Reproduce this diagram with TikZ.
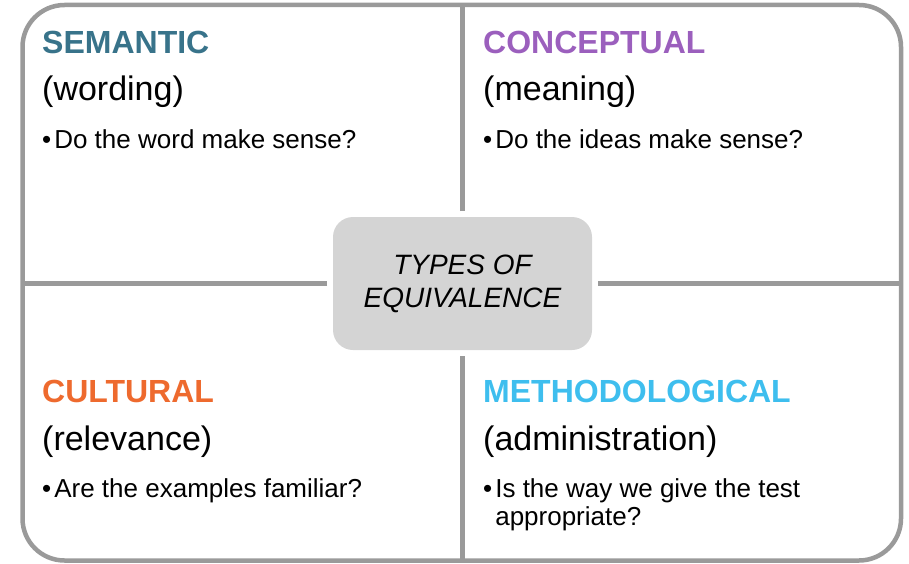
\documentclass[tikz,border=0pt]{standalone}
\usepackage{fontspec}
\setmainfont{Liberation Sans}
\definecolor{semcol}{HTML}{38738A}
\definecolor{concol}{HTML}{9B5FBD}
\definecolor{culcol}{HTML}{EE6A2E}
\definecolor{metcol}{HTML}{3EBEEE}
\definecolor{framegray}{HTML}{9A9A9A}
\definecolor{boxgray}{HTML}{D4D4D4}
\begin{document}
\begin{tikzpicture}[x=1pt, y=-1pt,
    head/.style={anchor=base west, inner sep=0pt, font=\fontsize{32}{38}\selectfont\bfseries},
    sub/.style={anchor=base west, inner sep=0pt, font=\fontsize{34}{40}\selectfont},
    item/.style={anchor=base west, inner sep=0pt, font=\fontsize{26}{28}\selectfont},
    divider/.style={draw=framegray, line width=4.5pt}]
    \useasboundingbox (0,0) rectangle (909,564);
    \draw[divider, rounded corners=42pt] (22.5,5) rectangle (901,560.5);

    % centre box
    \node[fill=boxgray, rounded corners=20pt, minimum width=259pt, minimum height=133pt,
          outer sep=6pt, align=center, font=\fontsize{28}{33}\selectfont\itshape] (types) at (462.5,283.5) {TYPES OF\\EQUIVALENCE};
    \coordinate (top) at (462.5,5);
    \coordinate (bottom) at (462.5,560.5);
    \coordinate (left) at (22.5,283.5);
    \coordinate (right) at (901,283.5);
    \draw[divider] (types) -- (top);
    \draw[divider] (types) -- (bottom);
    \draw[divider] (types) -- (left);
    \draw[divider] (types) -- (right);

    % quadrants
    \node[head, text=semcol] (semantic) at (42,54) {SEMANTIC};
    \node[sub] (wording) at (42,101) {(wording)};
    \node[item] (semitem) at (42,149) {•\hspace{3pt}Do the word make sense?};

    \node[head, text=concol] (conceptual) at (483,54) {CONCEPTUAL};
    \node[sub] (meaning) at (483,101) {(meaning)};
    \node[item] (conitem) at (483,149) {•\hspace{3pt}Do the ideas make sense?};

    \node[head, text=culcol] (cultural) at (42,402) {CULTURAL};
    \node[sub] (relevance) at (42,450) {(relevance)};
    \node[item] (culitem) at (42,497) {•\hspace{3pt}Are the examples familiar?};

    \node[head, text=metcol] (methodological) at (483,402) {METHODOLOGICAL};
    \node[sub] (administration) at (483,450) {(administration)};
    \node[item] (metitem) at (483,497) {•\hspace{3pt}\begin{tabular}[t]{@{}l@{}}Is the way we give the test\\appropriate?\end{tabular}};
\end{tikzpicture}
\end{document}
